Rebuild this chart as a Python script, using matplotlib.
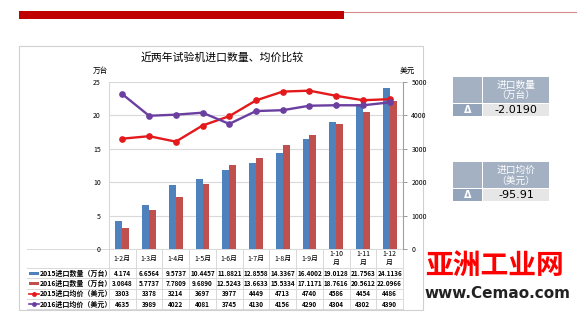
import numpy as np
import matplotlib
matplotlib.use("Agg")
import matplotlib.pyplot as plt
from matplotlib.patches import Rectangle
from matplotlib.lines import Line2D

plt.rcParams['font.family'] = ['Noto Sans CJK SC', 'DejaVu Sans']

# 数据
months = ["1-2月", "1-3月", "1-4月", "1-5月", "1-6月", "1-7月", "1-8月", "1-9月",
          "1-10月", "1-11月", "1-12月"]
qty_2015 = ["4.174", "6.6564", "9.5737", "10.4457", "11.8821", "12.8558", "14.3367",
            "16.4002", "19.0128", "21.7563", "24.1136"]
qty_2016 = ["3.0848", "5.7737", "7.7809", "9.6890", "12.5243", "13.6633", "15.5334",
            "17.1171", "18.7616", "20.5612", "22.0966"]
price_2015 = [3303, 3378, 3214, 3697, 3977, 4449, 4713, 4740, 4586, 4454, 4486]
price_2016 = [4635, 3989, 4022, 4081, 3745, 4130, 4156, 4290, 4304, 4302, 4390]
series_names = ["2015进口数量（万台）", "2016进口数量（万台）",
                "2015进口均价（美元）", "2016进口均价（美元）"]
delta_titles = ["进口数量\n（万台）", "进口均价\n（美元）"]
delta_values = ["-2.0190", "-95.91"]

c_blue = "#4F81BD"
c_red = "#C0504D"
c_line_red = "#E3191C"
c_purple = "#6B3FA0"
grid_c = "#D9D9D9"

W, H = 582, 323
fig = plt.figure(figsize=(W / 100, H / 100), dpi=100)

# 背景层（像素坐标）
bg = fig.add_axes([0, 0, 1, 1], zorder=0)
bg.set_xlim(0, W)
bg.set_ylim(H, 0)
bg.axis("off")

# 顶部红条
bg.add_patch(Rectangle((19, 11), 325, 8, color="#C00000", lw=0))
bg.plot([344, 576], [11.5, 11.5], color="#D98A8A", lw=0.8)

# 图表外框
bg.add_patch(Rectangle((19, 46), 404, 264, facecolor="white", edgecolor="#D0D0D0", lw=0.8))

# 主图
L, R, T, B = 109, 403, 82, 249
ax = fig.add_axes([L / W, 1 - B / H, (R - L) / W, (B - T) / H], zorder=2)
ax.set_facecolor("none")
x = np.arange(len(months))
q15 = [float(v) for v in qty_2015]
q16 = [float(v) for v in qty_2016]
bw = 0.26
ax.bar(x - bw / 2, q15, bw, color=c_blue, zorder=2)
ax.bar(x + bw / 2, q16, bw, color=c_red, zorder=2)
ax.set_xlim(-0.5, len(months) - 0.5)
ax.set_ylim(0, 25)
ax.set_yticks(np.arange(0, 26, 5))
ax.yaxis.grid(True, color=grid_c, lw=0.8, zorder=0)
ax.set_xticks([])
ax.tick_params(axis="y", length=0, labelsize=5, pad=6)
for s in ["top", "bottom", "right"]:
    ax.spines[s].set_visible(False)
ax.spines["left"].set_color(grid_c)

ax2 = ax.twinx()
ax2.plot(x, price_2015, color=c_line_red, lw=1.7, marker="o", ms=3.8, zorder=3)
ax2.plot(x, price_2016, color=c_purple, lw=1.7, marker="o", ms=3.8, zorder=3)
ax2.set_ylim(0, 5000)
ax2.set_yticks(np.arange(0, 5001, 1000))
ax2.tick_params(axis="y", length=3, width=0.6, color="#888888", labelsize=5, pad=3)
for s in ["top", "bottom", "left"]:
    ax2.spines[s].set_visible(False)
ax2.spines["right"].set_color("#A0A0A0")

# 标题和单位
bg.text(222, 57, "近两年试验机进口数量、均价比较", ha="center", va="center", fontsize=7.8)
bg.text(100, 71, "万台", ha="center", va="center", fontsize=5.5)
bg.text(407, 71, "美元", ha="center", va="center", fontsize=5.5)

# 数据表
n = len(months)
cw = (R - L) / n
row_edges = [249, 268, 278.3, 288.6, 298.9, 309.2]
for yv in row_edges:
    bg.plot([27, R], [yv, yv], color=grid_c, lw=0.7)
for i in range(n + 1):
    bg.plot([L + i * cw, L + i * cw], [249, 309.2], color=grid_c, lw=0.7)
for i, m in enumerate(months):
    lab = m if len(m) <= 4 else m[:-1] + "\n月"
    bg.text(L + (i + 0.5) * cw, 258.5, lab, ha="center", va="center", fontsize=5,
            linespacing=1.3)
rows = [qty_2015, qty_2016, [str(v) for v in price_2015], [str(v) for v in price_2016]]
for r, vals in enumerate(rows):
    yc = (row_edges[r + 1] + row_edges[r + 2]) / 2
    for i, v in enumerate(vals):
        bg.text(L + (i + 0.5) * cw, yc, v, ha="center", va="center", fontsize=4.6,
                fontweight="bold")
    bg.text(40, yc, series_names[r], ha="left", va="center", fontsize=5, fontweight="bold")
    if r < 2:
        bg.add_patch(Rectangle((29, yc - 1.5), 10, 3, color=[c_blue, c_red][r], lw=0))
    else:
        col = [c_line_red, c_purple][r - 2]
        bg.add_line(Line2D([29, 39], [yc, yc], color=col, lw=1.2))
        bg.plot([34], [yc], "o", color=col, ms=2.5)

# 右侧差值面板
for k, y0 in enumerate([77, 162]):
    bg.add_patch(Rectangle((453, y0), 29, 26, color="#A3B1C3", lw=0))
    bg.add_patch(Rectangle((483, y0), 66, 26, color="#A3B1C3", lw=0))
    bg.text(516, y0 + 13, delta_titles[k], ha="center", va="center", fontsize=7,
            color="white", linespacing=1.1)
    bg.add_patch(Rectangle((453, y0 + 27), 29, 12, color="#94A5BB", lw=0))
    bg.add_patch(Rectangle((483, y0 + 27), 66, 12, color="#E6E6E6", lw=0))
    bg.text(467.5, y0 + 33, "Δ", ha="center", va="center", fontsize=7, color="white",
            fontweight="bold", family="DejaVu Sans")
    bg.text(516, y0 + 33, delta_values[k], ha="center", va="center", fontsize=8,
            color="black", family="DejaVu Sans")

# 水印
bg.text(495, 266, "亚洲工业网", ha="center", va="center", fontsize=20, color="#FF0000",
        fontweight="bold")
bg.text(497, 293, "www.Cemao.com", ha="center", va="center", fontsize=11,
        color="#222222", fontweight="bold", family="DejaVu Sans")

fig.savefig("out.png", dpi=100)
